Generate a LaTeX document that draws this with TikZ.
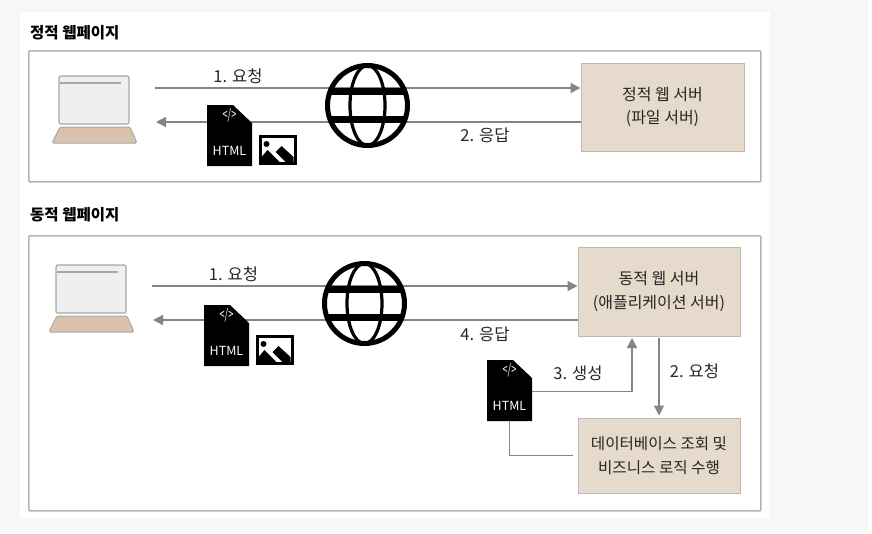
\documentclass[tikz,border=0pt]{standalone}
\usepackage{fontspec}
\setmainfont{Noto Sans CJK KR}
\usetikzlibrary{arrows.meta,positioning}
\definecolor{ink}{HTML}{000000}
\definecolor{pagebg}{HTML}{F7F7F7}
\definecolor{frameline}{HTML}{B4B4B4}
\definecolor{arrowline}{HTML}{858585}
\definecolor{serverfill}{HTML}{E6DACD}
\definecolor{serverline}{HTML}{BDB8B0}
\definecolor{screenfill}{HTML}{EFEFEF}
\definecolor{screenline}{HTML}{A8A8A8}
\definecolor{basefill}{HTML}{D9C3AE}
\tikzset{
  panel/.style={draw=frameline,line width=1.6pt,rounded corners=1pt,fill=white,anchor=north west,inner sep=0pt},
  server/.style={draw=serverline,line width=1pt,fill=serverfill,inner sep=0pt,align=center,font=\fontsize{16}{23.5}\selectfont,text=black!85},
  serverb/.style={server,font=\fontsize{15.6}{23.5}\selectfont},
  heading/.style={anchor=west,inner sep=0pt,font=\fontsize{15.5}{17}\selectfont\bfseries},
  lbl/.style={inner sep=0pt,font=\fontsize{16.5}{18}\selectfont,text=black!85},
  ar/.style={-{Triangle[length=10pt,width=10pt]},draw=arrowline,line width=1.4pt},
  ln/.style={draw=arrowline,line width=1.4pt},
  pics/laptop/.style={code={
    \draw[draw=screenline,fill=screenfill,line width=1.2pt,rounded corners=2pt] (0,0) rectangle (70,48);
    \draw[draw=screenline,line width=1.2pt] (1,7) -- (62,7);
    \draw[draw=screenline,fill=basefill,line width=1pt,rounded corners=1.5pt] (1,51) -- (71,51) -- (78,67) -- (-7,67) -- cycle;
  }},
  pics/globe/.style={code={
    \draw[ink,line width=5pt] (0,0) circle (40);
    \draw[ink,line width=3.2pt] (0,0) ellipse (17.5 and 40);
    \fill[ink] (-38,-17.5) rectangle (38,-10.5);
    \fill[ink] (-38,10.5) rectangle (38,17.5);
  }},
  pics/htmldoc/.style={code={
    \node[minimum width=45pt,minimum height=61pt,inner sep=0pt] (-box) at (22.5,30.5) {};
    \fill[ink] (0,0) -- (26,0) -- (45,18) -- (45,61) -- (0,61) -- cycle;
    \node[text=white,inner sep=0pt,font=\fontsize{14}{15}\selectfont,xscale=.65,transform shape] (-tag) at (22.5,10) {</>};
    \node[text=white,inner sep=0pt,font=\fontsize{12.5}{15}\selectfont] (-name) at (22.5,46) {HTML};
  }},
  pics/imageicon/.style={code={
    \fill[ink] (0,0) rectangle (38,30);
    \fill[white] (3,3) rectangle (35,27);
    \fill[ink] (8,9) circle (3);
    \fill[ink] (3,27) -- (3,22) -- (9,15) -- (21,27) -- cycle;
    \fill[ink] (17,17) -- (23,11) -- (35,22) -- (35,27) -- (27,27) -- cycle;
  }},
}
\begin{document}
\begin{tikzpicture}[x=1pt,y=-1pt]
  \useasboundingbox (0,0) rectangle (872,533);
  \fill[pagebg] (0,0) rectangle (868,533);
  \fill[white] (20,12) rectangle (770,518);

  % static page
  \node[heading] (title1) at (30,32.5) {정적 웹페이지};
  \node[panel,minimum width=732pt,minimum height=131pt] (frame1) at (28,50) {};
  \pic at (59,76) {laptop};
  \node[server,minimum width=163pt,minimum height=88pt] (web1) at (662.5,107) {정적 웹 서버\\(파일 서버)};
  \coordinate (from1) at (155,88);
  \coordinate (to1) at (156,122);
  \draw[ar] (from1) -- (web1.west |- from1);
  \draw[ar] (web1.west |- to1) -- (to1);
  \node[lbl] (req1) at (238,76) {1. 요청};
  \node[lbl] (res1) at (485,135) {2. 응답};
  \pic (g1) at (367.5,105.5) {globe};
  \pic (d1) at (207,105) {htmldoc};
  \pic (i1) at (258.5,135) {imageicon};

  % dynamic page
  \node[heading] (title2) at (30,214.5) {동적 웹페이지};
  \node[panel,minimum width=732pt,minimum height=275pt] (frame2) at (28,235) {};
  \pic at (56,265) {laptop};
  \node[server,minimum width=162pt,minimum height=89pt] (web2) at (659,291.5) {동적 웹 서버\\(애플리케이션 서버)};
  \node[serverb,minimum width=162pt,minimum height=75pt] (db) at (659,455.5) {데이터베이스 조회 및\\비즈니스 로직 수행};
  \coordinate (from2) at (152,286);
  \coordinate (to2) at (153,320);
  \draw[ar] (from2) -- (web2.west |- from2);
  \draw[ar] (web2.west |- to2) -- (to2);
  \node[lbl] (req2) at (233.5,274) {1. 요청};
  \node[lbl] (res2) at (485,334) {4. 응답};
  \pic (g2) at (364.5,303.5) {globe};
  \pic (d2) at (204,305) {htmldoc};
  \pic (i2) at (255.5,335) {imageicon};
  \pic (d3) at (487,360) {htmldoc};
  \coordinate (up3) at (632,338);
  \coordinate (down2) at (659,338);
  \draw[ar] (d3-box.east |- 0,391.5) -| (up3);
  \draw[ar,shorten >=2pt] (down2) -- (db.north);
  \draw[ln,shorten >=5pt] (d3-box.south) |- (db.west);
  \node[lbl] (made3) at (578,373) {3. 생성};
  \node[lbl] (req3) at (694.5,371) {2. 요청};
\end{tikzpicture}
\end{document}
